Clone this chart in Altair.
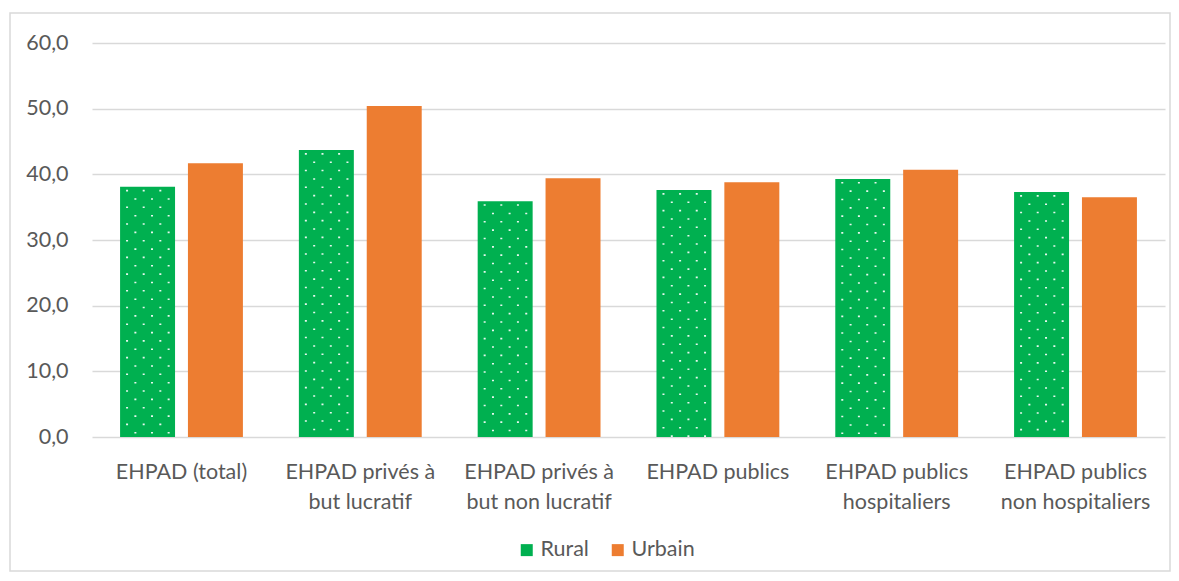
import json
import altair as alt
import pandas as pd

categories = [
    "EHPAD (total)",
    "EHPAD privés à but lucratif",
    "EHPAD privés à but non lucratif",
    "EHPAD publics",
    "EHPAD publics hospitaliers",
    "EHPAD publics non hospitaliers",
]
label_lines = [
    ["EHPAD (total)"],
    ["EHPAD privés à", "but lucratif"],
    ["EHPAD privés à", "but non lucratif"],
    ["EHPAD publics"],
    ["EHPAD publics", "hospitaliers"],
    ["EHPAD publics", "non hospitaliers"],
]
series = ["Rural", "Urbain"]
rural = [38.1, 43.7, 35.9, 37.6, 39.3, 37.3]
urbain = [41.7, 50.4, 39.4, 38.8, 40.7, 36.5]
colors = ["#00B050", "#ED7D31"]
y_ticks = [0, 10, 20, 30, 40, 50, 60]
pattern_cols = [0, 1, 2, 3, 4, 5]  # columns of the dotted fill in the Rural bars

rows = []
for c, r, u in zip(categories, rural, urbain):
    rows.append({"cat": c, "serie": "Rural", "val": r})
    rows.append({"cat": c, "serie": "Urbain", "val": u})
df = pd.DataFrame(rows)

dots = pd.DataFrame(
    [{"cat": c, "col": k, "val": r, "odd": k % 2} for c, r in zip(categories, rural) for k in pattern_cols]
)

label_map = json.dumps(dict(zip(categories, label_lines)), ensure_ascii=False)

FONT = "Lato"
FS = 21.5
W, H = 1073, 394

x_enc = alt.X("cat:N", sort=categories,
              scale=alt.Scale(paddingInner=0.313, paddingOuter=0.157),
              axis=alt.Axis(title=None, labelAngle=0, domain=False, ticks=False,
                            labelExpr=f"{label_map}[datum.label]",
                            labelFont=FONT, labelFontSize=FS, labelColor="#595959",
                            labelPadding=24, labelLineHeight=30, labelBaseline="top"))
y_enc = alt.Y("val:Q", scale=alt.Scale(domain=[0, 60], nice=False),
              axis=alt.Axis(title=None, values=y_ticks, domain=False, ticks=False,
                            labelExpr="replace(format(datum.value, '.1f'), '.', ',')",
                            labelFont=FONT, labelFontSize=FS, labelColor="#595959",
                            labelPadding=24, gridColor="#d9d9d9", gridWidth=1.5))

bars = alt.Chart(df).mark_bar().encode(
    x=x_enc,
    xOffset=alt.XOffset("serie:N", sort=series,
                        scale=alt.Scale(paddingInner=0.19, paddingOuter=0)),
    y=y_enc,
    color=alt.Color("serie:N", sort=series,
                    scale=alt.Scale(domain=series, range=colors),
                    legend=alt.Legend(title=None, orient="none", direction="horizontal",
                                      legendX=424, legendY=496, symbolType="square",
                                      symbolSize=144, symbolStrokeWidth=0,
                                      labelOffset=3,
                                      labelFont=FONT, labelFontSize=FS,
                                      labelColor="#595959", columnPadding=18)),
)

def dot_layer(odd, offset):
    return alt.Chart(dots).transform_filter(alt.datum.odd == odd).mark_rule(
        color="white", strokeWidth=2, strokeDash=[1.6, 15.1], strokeDashOffset=offset,
        opacity=0.9
    ).encode(
        x=alt.X("cat:N", sort=categories),
        xOffset=alt.XOffset("col:Q", scale=alt.Scale(domain=[-0.84, 13.93])),
        y=alt.Y("val:Q"),
        y2=alt.datum(0),
    )

frame = alt.Chart(pd.DataFrame({"k": [0]})).mark_rect(
    fill=None, stroke="#d9d9d9", strokeWidth=1.5
).encode(x=alt.value(-82), x2=alt.value(1078), y=alt.value(-30), y2=alt.value(528))

chart = alt.layer(frame, bars, dot_layer(0, 13.7), dot_layer(1, 5.3)).resolve_scale(
    xOffset="independent"
).properties(
    width=W, height=H,
    autosize=alt.AutoSizeParams(type="none"),
    padding={"left": 84, "top": 35, "right": 6, "bottom": 136},
    background="white",
).configure_view(stroke=None)

chart.save("out.html", embed_options={"renderer": "svg", "actions": False})
